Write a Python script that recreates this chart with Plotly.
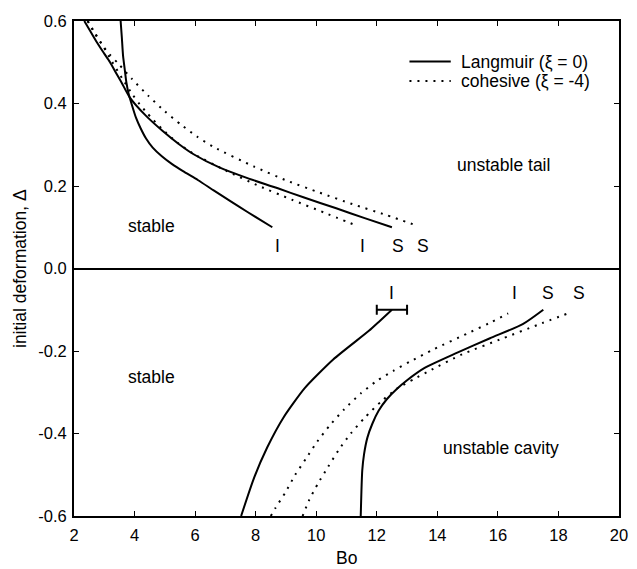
import plotly.graph_objects as go

# ---- upper branch (tail, delta > 0) ----
lang_tail_I_bo = [3.54, 3.58, 3.62, 3.68, 3.73, 3.80, 3.89, 4.05, 4.20, 4.38, 4.60, 4.90, 5.24, 5.60, 6.10, 6.60, 7.19, 7.73, 8.55]
lang_tail_I_d = [0.60, 0.56, 0.516, 0.48, 0.451, 0.425, 0.402, 0.365, 0.34, 0.315, 0.293, 0.272, 0.253, 0.236, 0.214, 0.19, 0.162, 0.137, 0.10]

lang_tail_S_bo = [2.34, 2.55, 2.76, 2.98, 3.19, 3.38, 3.57, 3.84, 4.38, 4.92, 5.46, 5.95, 6.80, 7.73, 8.71, 9.60, 10.66, 11.60, 12.50]
lang_tail_S_d = [0.60, 0.574, 0.548, 0.523, 0.50, 0.475, 0.451, 0.415, 0.37, 0.334, 0.302, 0.277, 0.245, 0.219, 0.195, 0.172, 0.146, 0.122, 0.10]

coh_tail_I_bo = [2.45, 2.70, 2.97, 3.26, 3.59, 3.94, 4.16, 4.40, 4.62, 4.90, 5.40, 5.95, 7.03, 8.11, 9.19, 10.28, 11.36]
coh_tail_I_d = [0.60, 0.57, 0.538, 0.501, 0.461, 0.421, 0.399, 0.378, 0.36, 0.339, 0.306, 0.278, 0.237, 0.20, 0.167, 0.135, 0.103]

coh_tail_S_bo = [2.45, 2.70, 2.97, 3.20, 3.46, 3.92, 4.45, 5.00, 5.53, 6.06, 6.60, 7.95, 9.03, 10.11, 11.20, 12.30, 13.36]
coh_tail_S_d = [0.60, 0.568, 0.538, 0.517, 0.497, 0.459, 0.419, 0.381, 0.349, 0.32, 0.295, 0.247, 0.213, 0.184, 0.156, 0.13, 0.103]

# ---- lower branch (cavity, delta < 0) ----
lang_cav_I_bo = [7.52, 7.95, 8.38, 8.92, 9.62, 10.57, 11.74, 12.10, 12.50]
lang_cav_I_d = [-0.60, -0.507, -0.434, -0.361, -0.29, -0.22, -0.151, -0.127, -0.10]

lang_cav_S_bo = [11.47, 11.49, 11.52, 11.58, 11.69, 11.85, 12.06, 12.33, 12.66, 12.98, 13.58, 14.66, 15.74, 16.82, 17.50]
lang_cav_S_d = [-0.60, -0.547, -0.49, -0.45, -0.41, -0.377, -0.345, -0.317, -0.292, -0.272, -0.241, -0.204, -0.169, -0.135, -0.10]

coh_cav_I_bo = [8.50, 8.65, 8.98, 9.30, 9.66, 10.03, 10.44, 10.93, 11.47, 12.01, 12.55, 13.09, 13.90, 14.98, 15.70, 16.34]
coh_cav_I_d = [-0.60, -0.581, -0.543, -0.501, -0.461, -0.42, -0.381, -0.341, -0.303, -0.272, -0.248, -0.226, -0.195, -0.158, -0.133, -0.109]

coh_cav_S_bo = [9.55, 9.77, 10.06, 10.39, 10.74, 11.14, 11.61, 12.15, 12.69, 13.23, 13.74, 14.82, 16.18, 17.30, 18.34]
coh_cav_S_d = [-0.60, -0.561, -0.521, -0.481, -0.44, -0.40, -0.361, -0.322, -0.29, -0.268, -0.248, -0.208, -0.169, -0.137, -0.108]

# uncertainty of the Langmuir instability point on the cavity side
err_bo = 12.5
err_d = -0.10
err_half = 0.5

# end-point markers: (Bo, delta, text)
end_labels = [
    (8.71, 0.055, "I"), (11.52, 0.055, "I"), (12.71, 0.055, "S"), (13.52, 0.055, "S"),
    (12.50, -0.060, "I"), (16.55, -0.060, "I"), (17.67, -0.060, "S"), (18.69, -0.060, "S"),
]
region_labels = [
    (4.57, 0.103, "stable"), (16.2, 0.25, "unstable tail"),
    (4.57, -0.262, "stable"), (16.1, -0.434, "unstable cavity"),
]

legend_names = ["Langmuir (ξ = 0)", "cohesive (ξ = -4)"]

x_tick_vals = [2, 4, 6, 8, 10, 12, 14, 16, 18, 20]
x_tick_text = ["2", "4", "6", "8", "10", "12", "14", "16", "18", "20"]
y_tick_vals = [-0.6, -0.4, -0.2, 0.0, 0.2, 0.4, 0.6]
y_tick_text = ["-0.6", "-0.4", "-0.2", "0.0", "0.2", "0.4", "0.6"]

FONT = "Liberation Sans, Arial, Helvetica, sans-serif"
solid = dict(color="black", width=2)
dotted = dict(color="black", width=2, dash="2px,6px")

fig = go.Figure()

def add_curve(x, y, line, name):
    fig.add_trace(go.Scatter(
        x=x, y=y, mode="lines", line=dict(shape="spline", smoothing=0.6, **line),
        name=name, showlegend=False, hoverinfo="skip"))

add_curve(lang_tail_I_bo, lang_tail_I_d, solid, legend_names[0])
add_curve(lang_tail_S_bo, lang_tail_S_d, solid, legend_names[0])
add_curve(lang_cav_I_bo, lang_cav_I_d, solid, legend_names[0])
add_curve(lang_cav_S_bo, lang_cav_S_d, solid, legend_names[0])
add_curve(coh_tail_I_bo, coh_tail_I_d, dotted, legend_names[1])
add_curve(coh_tail_S_bo, coh_tail_S_d, dotted, legend_names[1])
add_curve(coh_cav_I_bo, coh_cav_I_d, dotted, legend_names[1])
add_curve(coh_cav_S_bo, coh_cav_S_d, dotted, legend_names[1])

fig.add_trace(go.Scatter(
    x=[err_bo], y=[err_d], mode="markers", marker=dict(size=1, opacity=0),
    error_x=dict(type="data", array=[err_half], color="black", thickness=2, width=5),
    showlegend=False, hoverinfo="skip"))

for bo, d, t in end_labels + region_labels:
    fig.add_annotation(x=bo, y=d, text=t, showarrow=False,
                       font=dict(family=FONT, size=17.5, color="black"))

# legend box: sample line + text per entry, placed in paper coordinates
legend_rows = [(0.918, solid, legend_names[0]), (0.879, dotted, legend_names[1])]
for ypos, style, label in legend_rows:
    fig.add_shape(type="line", xref="paper", yref="paper",
                  x0=0.6155, x1=0.6913, y0=ypos, y1=ypos,
                  line=dict(color=style["color"], width=style["width"], dash=style.get("dash", "solid")))
    fig.add_annotation(xref="paper", yref="paper", x=0.706, y=ypos, xanchor="left", yanchor="middle",
                       text=label, showarrow=False, font=dict(family=FONT, size=17.5, color="black"))

# axis titles
fig.add_annotation(xref="paper", yref="paper", x=0.5, y=-0.085, yanchor="middle",
                   text="Bo", showarrow=False, font=dict(family=FONT, size=17.5, color="black"))
fig.add_annotation(xref="paper", yref="paper", x=-0.1, y=0.5, xanchor="center",
                   text="initial deformation, Δ", textangle=-90, showarrow=False,
                   font=dict(family=FONT, size=17.5, color="black"))

axis_common = dict(showline=True, linewidth=2, linecolor="black", mirror="ticks",
                   ticks="inside", ticklen=5, tickwidth=1, tickcolor="black",
                   showgrid=False, tickfont=dict(family=FONT, size=16.5, color="black"))

fig.update_layout(
    width=637, height=569,
    margin=dict(l=74, r=9, t=21, b=53),
    paper_bgcolor="white", plot_bgcolor="white",
    font=dict(family=FONT, size=16, color="black"),
    showlegend=False,
    xaxis=dict(range=[2, 20], tickvals=x_tick_vals, ticktext=x_tick_text,
               zeroline=False, ticklabelstandoff=3, **axis_common),
    yaxis=dict(range=[-0.6, 0.6], tickvals=y_tick_vals, ticktext=y_tick_text,
               zeroline=True, zerolinecolor="black", zerolinewidth=2,
               ticklabelstandoff=2, **axis_common),
)

fig.write_html("out.html")
